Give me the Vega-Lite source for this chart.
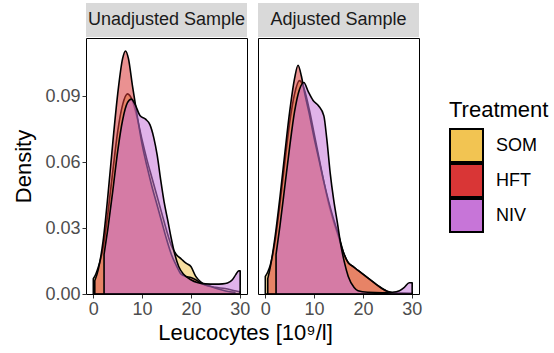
{
  "$schema": "https://vega.github.io/schema/vega-lite/v6.json",
  "padding": {"left": 12, "top": 3, "right": 0, "bottom": 2},
  "background": "white",
  "config": {
    "font": "Liberation Sans",
    "view": {"stroke": "black", "strokeWidth": 1},
    "axis": {"domain": false, "grid": false, "tickColor": "#333333", "tickSize": 4, "labelColor": "#4D4D4D", "labelFontSize": 18, "titleFontSize": 22, "titleFontWeight": "normal", "titleColor": "black", "labelPadding": 2}
  },
  "datasets": {
    "curves": [
      {"panel": "U", "Treatment": "SOM", "x": 0, "density": 0.007},
      {"panel": "U", "Treatment": "SOM", "x": 0.5, "density": 0.009},
      {"panel": "U", "Treatment": "SOM", "x": 1, "density": 0.012},
      {"panel": "U", "Treatment": "SOM", "x": 2, "density": 0.021},
      {"panel": "U", "Treatment": "SOM", "x": 3, "density": 0.037},
      {"panel": "U", "Treatment": "SOM", "x": 4, "density": 0.056},
      {"panel": "U", "Treatment": "SOM", "x": 5, "density": 0.074},
      {"panel": "U", "Treatment": "SOM", "x": 6, "density": 0.086},
      {"panel": "U", "Treatment": "SOM", "x": 7, "density": 0.091},
      {"panel": "U", "Treatment": "SOM", "x": 8, "density": 0.088},
      {"panel": "U", "Treatment": "SOM", "x": 9, "density": 0.080},
      {"panel": "U", "Treatment": "SOM", "x": 10, "density": 0.070},
      {"panel": "U", "Treatment": "SOM", "x": 11, "density": 0.061},
      {"panel": "U", "Treatment": "SOM", "x": 12, "density": 0.053},
      {"panel": "U", "Treatment": "SOM", "x": 13, "density": 0.045},
      {"panel": "U", "Treatment": "SOM", "x": 14, "density": 0.037},
      {"panel": "U", "Treatment": "SOM", "x": 15, "density": 0.029},
      {"panel": "U", "Treatment": "SOM", "x": 16, "density": 0.022},
      {"panel": "U", "Treatment": "SOM", "x": 17, "density": 0.018},
      {"panel": "U", "Treatment": "SOM", "x": 18, "density": 0.016},
      {"panel": "U", "Treatment": "SOM", "x": 19, "density": 0.014},
      {"panel": "U", "Treatment": "SOM", "x": 20, "density": 0.0125},
      {"panel": "U", "Treatment": "SOM", "x": 21, "density": 0.008},
      {"panel": "U", "Treatment": "SOM", "x": 22, "density": 0.0055},
      {"panel": "U", "Treatment": "SOM", "x": 23, "density": 0.004},
      {"panel": "U", "Treatment": "SOM", "x": 25, "density": 0.003},
      {"panel": "U", "Treatment": "SOM", "x": 27, "density": 0.0025},
      {"panel": "U", "Treatment": "SOM", "x": 29, "density": 0.0015},
      {"panel": "U", "Treatment": "SOM", "x": 30, "density": 0.001},

      {"panel": "U", "Treatment": "HFT", "x": 0.3, "density": 0.006},
      {"panel": "U", "Treatment": "HFT", "x": 1, "density": 0.011},
      {"panel": "U", "Treatment": "HFT", "x": 2, "density": 0.024},
      {"panel": "U", "Treatment": "HFT", "x": 3, "density": 0.045},
      {"panel": "U", "Treatment": "HFT", "x": 4, "density": 0.069},
      {"panel": "U", "Treatment": "HFT", "x": 5, "density": 0.091},
      {"panel": "U", "Treatment": "HFT", "x": 6, "density": 0.107},
      {"panel": "U", "Treatment": "HFT", "x": 6.6, "density": 0.1105},
      {"panel": "U", "Treatment": "HFT", "x": 7.2, "density": 0.107},
      {"panel": "U", "Treatment": "HFT", "x": 8, "density": 0.095},
      {"panel": "U", "Treatment": "HFT", "x": 9, "density": 0.081},
      {"panel": "U", "Treatment": "HFT", "x": 10, "density": 0.068},
      {"panel": "U", "Treatment": "HFT", "x": 11, "density": 0.058},
      {"panel": "U", "Treatment": "HFT", "x": 12, "density": 0.049},
      {"panel": "U", "Treatment": "HFT", "x": 13, "density": 0.041},
      {"panel": "U", "Treatment": "HFT", "x": 14, "density": 0.033},
      {"panel": "U", "Treatment": "HFT", "x": 15, "density": 0.025},
      {"panel": "U", "Treatment": "HFT", "x": 16, "density": 0.018},
      {"panel": "U", "Treatment": "HFT", "x": 17, "density": 0.013},
      {"panel": "U", "Treatment": "HFT", "x": 18, "density": 0.009},
      {"panel": "U", "Treatment": "HFT", "x": 19, "density": 0.008},
      {"panel": "U", "Treatment": "HFT", "x": 20, "density": 0.0075},
      {"panel": "U", "Treatment": "HFT", "x": 21, "density": 0.0065},
      {"panel": "U", "Treatment": "HFT", "x": 22, "density": 0.005},
      {"panel": "U", "Treatment": "HFT", "x": 24, "density": 0.0035},
      {"panel": "U", "Treatment": "HFT", "x": 26, "density": 0.002},
      {"panel": "U", "Treatment": "HFT", "x": 28, "density": 0.001},
      {"panel": "U", "Treatment": "HFT", "x": 29, "density": 0.0008},

      {"panel": "U", "Treatment": "NIV", "x": 2.2, "density": 0.018},
      {"panel": "U", "Treatment": "NIV", "x": 3, "density": 0.030},
      {"panel": "U", "Treatment": "NIV", "x": 4, "density": 0.047},
      {"panel": "U", "Treatment": "NIV", "x": 5, "density": 0.065},
      {"panel": "U", "Treatment": "NIV", "x": 6, "density": 0.079},
      {"panel": "U", "Treatment": "NIV", "x": 7, "density": 0.087},
      {"panel": "U", "Treatment": "NIV", "x": 7.8, "density": 0.0886},
      {"panel": "U", "Treatment": "NIV", "x": 8.6, "density": 0.086},
      {"panel": "U", "Treatment": "NIV", "x": 9.6, "density": 0.081},
      {"panel": "U", "Treatment": "NIV", "x": 10.7, "density": 0.0795},
      {"panel": "U", "Treatment": "NIV", "x": 11.6, "density": 0.077},
      {"panel": "U", "Treatment": "NIV", "x": 12.4, "density": 0.071},
      {"panel": "U", "Treatment": "NIV", "x": 13.1, "density": 0.063},
      {"panel": "U", "Treatment": "NIV", "x": 13.8, "density": 0.052},
      {"panel": "U", "Treatment": "NIV", "x": 14.5, "density": 0.042},
      {"panel": "U", "Treatment": "NIV", "x": 15.3, "density": 0.033},
      {"panel": "U", "Treatment": "NIV", "x": 16, "density": 0.025},
      {"panel": "U", "Treatment": "NIV", "x": 16.6, "density": 0.019},
      {"panel": "U", "Treatment": "NIV", "x": 17.5, "density": 0.0125},
      {"panel": "U", "Treatment": "NIV", "x": 18.5, "density": 0.009},
      {"panel": "U", "Treatment": "NIV", "x": 20, "density": 0.0065},
      {"panel": "U", "Treatment": "NIV", "x": 21.3, "density": 0.0052},
      {"panel": "U", "Treatment": "NIV", "x": 23, "density": 0.0046},
      {"panel": "U", "Treatment": "NIV", "x": 25, "density": 0.0045},
      {"panel": "U", "Treatment": "NIV", "x": 26.5, "density": 0.0046},
      {"panel": "U", "Treatment": "NIV", "x": 27.5, "density": 0.005},
      {"panel": "U", "Treatment": "NIV", "x": 28.5, "density": 0.0065},
      {"panel": "U", "Treatment": "NIV", "x": 29.2, "density": 0.0088},
      {"panel": "U", "Treatment": "NIV", "x": 29.8, "density": 0.0105},
      {"panel": "U", "Treatment": "NIV", "x": 30.1, "density": 0.0105},

      {"panel": "A", "Treatment": "SOM", "x": 0, "density": 0.008},
      {"panel": "A", "Treatment": "SOM", "x": 0.5, "density": 0.010},
      {"panel": "A", "Treatment": "SOM", "x": 1, "density": 0.013},
      {"panel": "A", "Treatment": "SOM", "x": 2, "density": 0.024},
      {"panel": "A", "Treatment": "SOM", "x": 3, "density": 0.041},
      {"panel": "A", "Treatment": "SOM", "x": 4, "density": 0.060},
      {"panel": "A", "Treatment": "SOM", "x": 5, "density": 0.078},
      {"panel": "A", "Treatment": "SOM", "x": 6, "density": 0.091},
      {"panel": "A", "Treatment": "SOM", "x": 7, "density": 0.097},
      {"panel": "A", "Treatment": "SOM", "x": 8, "density": 0.093},
      {"panel": "A", "Treatment": "SOM", "x": 9, "density": 0.084},
      {"panel": "A", "Treatment": "SOM", "x": 10, "density": 0.073},
      {"panel": "A", "Treatment": "SOM", "x": 11, "density": 0.062},
      {"panel": "A", "Treatment": "SOM", "x": 12, "density": 0.051},
      {"panel": "A", "Treatment": "SOM", "x": 13, "density": 0.041},
      {"panel": "A", "Treatment": "SOM", "x": 14, "density": 0.033},
      {"panel": "A", "Treatment": "SOM", "x": 15, "density": 0.026},
      {"panel": "A", "Treatment": "SOM", "x": 16, "density": 0.019},
      {"panel": "A", "Treatment": "SOM", "x": 17, "density": 0.0142},
      {"panel": "A", "Treatment": "SOM", "x": 18, "density": 0.0125},
      {"panel": "A", "Treatment": "SOM", "x": 19, "density": 0.0107},
      {"panel": "A", "Treatment": "SOM", "x": 20, "density": 0.009},
      {"panel": "A", "Treatment": "SOM", "x": 21, "density": 0.0073},
      {"panel": "A", "Treatment": "SOM", "x": 22, "density": 0.0056},
      {"panel": "A", "Treatment": "SOM", "x": 23, "density": 0.0039},
      {"panel": "A", "Treatment": "SOM", "x": 24, "density": 0.0024},
      {"panel": "A", "Treatment": "SOM", "x": 25, "density": 0.0012},
      {"panel": "A", "Treatment": "SOM", "x": 26, "density": 0.0006},
      {"panel": "A", "Treatment": "SOM", "x": 28, "density": 0.0004},
      {"panel": "A", "Treatment": "SOM", "x": 30, "density": 0.0003},

      {"panel": "A", "Treatment": "HFT", "x": 0.5, "density": 0.007},
      {"panel": "A", "Treatment": "HFT", "x": 1, "density": 0.012},
      {"panel": "A", "Treatment": "HFT", "x": 2, "density": 0.026},
      {"panel": "A", "Treatment": "HFT", "x": 3, "density": 0.044},
      {"panel": "A", "Treatment": "HFT", "x": 4, "density": 0.064},
      {"panel": "A", "Treatment": "HFT", "x": 5, "density": 0.083},
      {"panel": "A", "Treatment": "HFT", "x": 6, "density": 0.098},
      {"panel": "A", "Treatment": "HFT", "x": 6.7, "density": 0.104},
      {"panel": "A", "Treatment": "HFT", "x": 7.4, "density": 0.099},
      {"panel": "A", "Treatment": "HFT", "x": 8, "density": 0.092},
      {"panel": "A", "Treatment": "HFT", "x": 9, "density": 0.082},
      {"panel": "A", "Treatment": "HFT", "x": 10, "density": 0.071},
      {"panel": "A", "Treatment": "HFT", "x": 11, "density": 0.061},
      {"panel": "A", "Treatment": "HFT", "x": 12, "density": 0.051},
      {"panel": "A", "Treatment": "HFT", "x": 13, "density": 0.042},
      {"panel": "A", "Treatment": "HFT", "x": 14, "density": 0.034},
      {"panel": "A", "Treatment": "HFT", "x": 15, "density": 0.027},
      {"panel": "A", "Treatment": "HFT", "x": 16, "density": 0.019},
      {"panel": "A", "Treatment": "HFT", "x": 17, "density": 0.0142},
      {"panel": "A", "Treatment": "HFT", "x": 18, "density": 0.0125},
      {"panel": "A", "Treatment": "HFT", "x": 19, "density": 0.0107},
      {"panel": "A", "Treatment": "HFT", "x": 20, "density": 0.009},
      {"panel": "A", "Treatment": "HFT", "x": 21, "density": 0.0073},
      {"panel": "A", "Treatment": "HFT", "x": 22, "density": 0.0056},
      {"panel": "A", "Treatment": "HFT", "x": 23, "density": 0.0039},
      {"panel": "A", "Treatment": "HFT", "x": 24, "density": 0.0024},
      {"panel": "A", "Treatment": "HFT", "x": 25, "density": 0.0012},
      {"panel": "A", "Treatment": "HFT", "x": 26, "density": 0.0005},
      {"panel": "A", "Treatment": "HFT", "x": 27, "density": 0.0003},

      {"panel": "A", "Treatment": "NIV", "x": 2.2, "density": 0.018},
      {"panel": "A", "Treatment": "NIV", "x": 3, "density": 0.031},
      {"panel": "A", "Treatment": "NIV", "x": 4, "density": 0.049},
      {"panel": "A", "Treatment": "NIV", "x": 5, "density": 0.067},
      {"panel": "A", "Treatment": "NIV", "x": 6, "density": 0.083},
      {"panel": "A", "Treatment": "NIV", "x": 7, "density": 0.093},
      {"panel": "A", "Treatment": "NIV", "x": 7.9, "density": 0.0962},
      {"panel": "A", "Treatment": "NIV", "x": 8.8, "density": 0.092},
      {"panel": "A", "Treatment": "NIV", "x": 9.8, "density": 0.088},
      {"panel": "A", "Treatment": "NIV", "x": 10.9, "density": 0.0856},
      {"panel": "A", "Treatment": "NIV", "x": 12, "density": 0.081},
      {"panel": "A", "Treatment": "NIV", "x": 12.6, "density": 0.0705},
      {"panel": "A", "Treatment": "NIV", "x": 13.3, "density": 0.055},
      {"panel": "A", "Treatment": "NIV", "x": 14, "density": 0.043},
      {"panel": "A", "Treatment": "NIV", "x": 14.8, "density": 0.032},
      {"panel": "A", "Treatment": "NIV", "x": 15.5, "density": 0.022},
      {"panel": "A", "Treatment": "NIV", "x": 16.2, "density": 0.0145},
      {"panel": "A", "Treatment": "NIV", "x": 17, "density": 0.008},
      {"panel": "A", "Treatment": "NIV", "x": 18.2, "density": 0.003},
      {"panel": "A", "Treatment": "NIV", "x": 19, "density": 0.0015},
      {"panel": "A", "Treatment": "NIV", "x": 21, "density": 0.0008},
      {"panel": "A", "Treatment": "NIV", "x": 24, "density": 0.0006},
      {"panel": "A", "Treatment": "NIV", "x": 26, "density": 0.0008},
      {"panel": "A", "Treatment": "NIV", "x": 27.5, "density": 0.0015},
      {"panel": "A", "Treatment": "NIV", "x": 28.5, "density": 0.003},
      {"panel": "A", "Treatment": "NIV", "x": 29.5, "density": 0.0051},
      {"panel": "A", "Treatment": "NIV", "x": 30.1, "density": 0.0051}
    ]
  },
  "columns": 2,
  "bounds": "flush",
  "spacing": {"row": 1, "column": 11},
  "resolve": {"scale": {"fill": "shared"}, "legend": {"fill": "shared"}},
  "concat": [
    {
      "width": 161, "height": 34,
      "view": {"stroke": null},
      "data": {"values": [{"label": "Unadjusted Sample"}]},
      "layer": [
        {"mark": {"type": "rect", "color": "#D9D9D9"}, "encoding": {"x": {"value": 0}, "x2": {"value": "width"}, "y": {"value": 0}, "y2": {"value": "height"}}},
        {"mark": {"type": "text", "fontSize": 18, "color": "#1A1A1A"}, "encoding": {"text": {"field": "label"}}}
      ]
    },
    {
      "width": 161, "height": 34,
      "view": {"stroke": null},
      "data": {"values": [{"label": "Adjusted Sample"}]},
      "layer": [
        {"mark": {"type": "rect", "color": "#D9D9D9"}, "encoding": {"x": {"value": 0}, "x2": {"value": "width"}, "y": {"value": 0}, "y2": {"value": "height"}}},
        {"mark": {"type": "text", "fontSize": 18, "color": "#1A1A1A"}, "encoding": {"text": {"field": "label"}}}
      ]
    },
    {
      "width": 161, "height": 256,
      "data": {"name": "curves"},
      "transform": [{"filter": "datum.panel === 'U'"}],
      "mark": {"type": "area", "interpolate": "monotone", "fillOpacity": 0.55, "stroke": "black", "strokeWidth": 1.6, "strokeJoin": "round"},
      "encoding": {
        "x": {"field": "x", "type": "quantitative", "scale": {"domain": [-1.5, 31.5], "nice": false, "zero": false}, "axis": {"values": [0, 10, 20, 30], "title": "Leucocytes [10⁹/l]", "titleX": 159, "titleAlign": "center", "titleAnchor": "middle", "titlePadding": 4}},
        "y": {"field": "density", "type": "quantitative", "stack": null, "scale": {"domain": [0, 0.1164], "nice": false}, "axis": {"values": [0, 0.03, 0.06, 0.09], "format": ".2f", "title": "Density", "titlePadding": 9}},
        "fill": {"field": "Treatment", "type": "nominal", "sort": ["SOM", "HFT", "NIV"], "scale": {"domain": ["SOM", "HFT", "NIV"], "range": ["#F2C452", "#D93636", "#C775D8"]},
          "legend": {"orient": "none", "legendX": 363, "legendY": 97, "title": "Treatment", "titleFontSize": 22, "titleFontWeight": "normal", "titleColor": "black", "labelFontSize": 18, "labelColor": "black", "symbolType": "square", "symbolSize": 1089, "symbolStrokeColor": "black", "symbolStrokeWidth": 2, "symbolOpacity": 1, "rowPadding": 0, "clipHeight": 35, "labelOffset": 12, "titlePadding": 6}}
      }
    },
    {
      "width": 161, "height": 256,
      "data": {"name": "curves"},
      "transform": [{"filter": "datum.panel === 'A'"}],
      "mark": {"type": "area", "interpolate": "monotone", "fillOpacity": 0.55, "stroke": "black", "strokeWidth": 1.6, "strokeJoin": "round"},
      "encoding": {
        "x": {"field": "x", "type": "quantitative", "scale": {"domain": [-1.5, 31.5], "nice": false, "zero": false}, "axis": {"values": [0, 10, 20, 30], "title": null}},
        "y": {"field": "density", "type": "quantitative", "stack": null, "scale": {"domain": [0, 0.1164], "nice": false}, "axis": null},
        "fill": {"field": "Treatment", "type": "nominal", "sort": ["SOM", "HFT", "NIV"], "scale": {"domain": ["SOM", "HFT", "NIV"], "range": ["#F2C452", "#D93636", "#C775D8"]}}
      }
    }
  ]
}
